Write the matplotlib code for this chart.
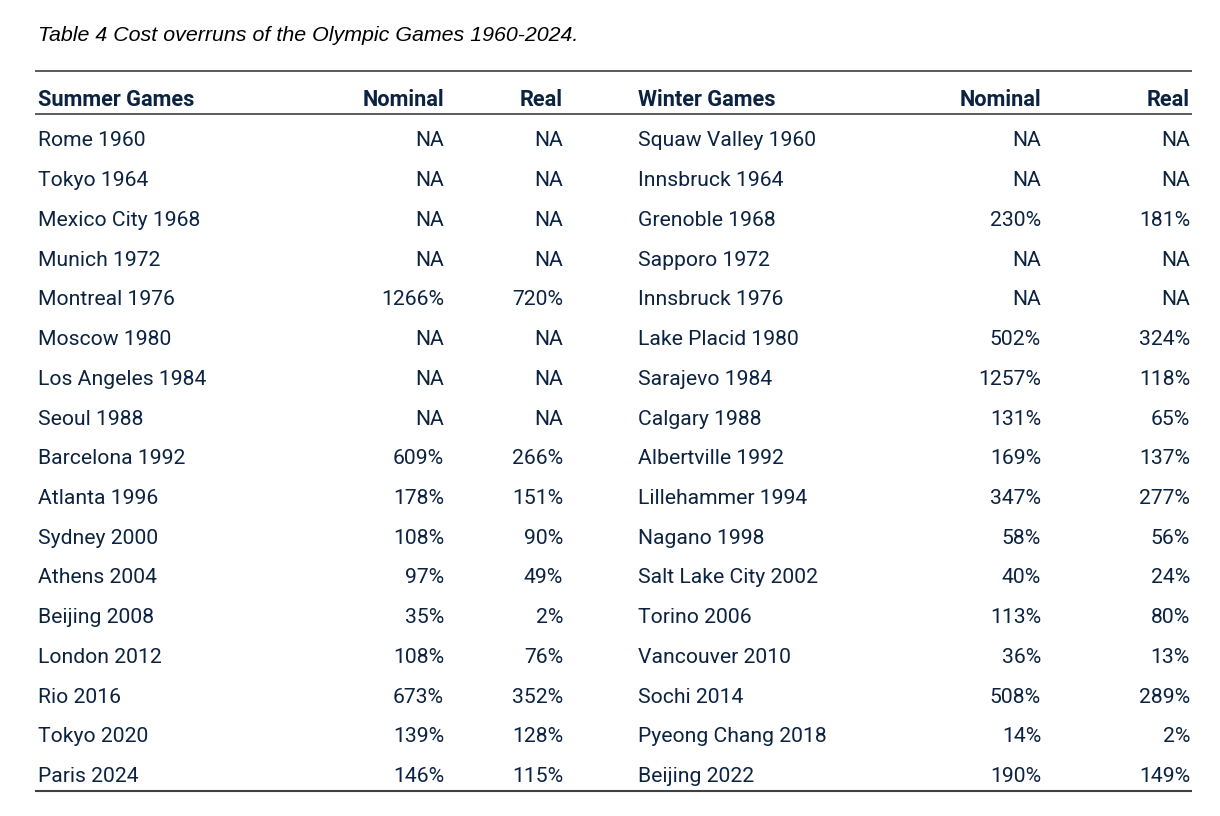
import matplotlib
matplotlib.use("Agg")
import matplotlib.pyplot as plt

title = "Table 4 Cost overruns of the Olympic Games 1960-2024."
headers = ["Summer Games", "Nominal", "Real", "Winter Games", "Nominal", "Real"]

summer_games = ["Rome 1960", "Tokyo 1964", "Mexico City 1968", "Munich 1972", "Montreal 1976",
                "Moscow 1980", "Los Angeles 1984", "Seoul 1988", "Barcelona 1992", "Atlanta 1996",
                "Sydney 2000", "Athens 2004", "Beijing 2008", "London 2012", "Rio 2016",
                "Tokyo 2020", "Paris 2024"]
summer_nominal = ["NA", "NA", "NA", "NA", "1266%", "NA", "NA", "NA", "609%", "178%",
                  "108%", "97%", "35%", "108%", "673%", "139%", "146%"]
summer_real = ["NA", "NA", "NA", "NA", "720%", "NA", "NA", "NA", "266%", "151%",
               "90%", "49%", "2%", "76%", "352%", "128%", "115%"]

winter_games = ["Squaw Valley 1960", "Innsbruck 1964", "Grenoble 1968", "Sapporo 1972",
                "Innsbruck 1976", "Lake Placid 1980", "Sarajevo 1984", "Calgary 1988",
                "Albertville 1992", "Lillehammer 1994", "Nagano 1998", "Salt Lake City 2002",
                "Torino 2006", "Vancouver 2010", "Sochi 2014", "Pyeong Chang 2018", "Beijing 2022"]
winter_nominal = ["NA", "NA", "230%", "NA", "NA", "502%", "1257%", "131%", "169%", "347%",
                  "58%", "40%", "113%", "36%", "508%", "14%", "190%"]
winter_real = ["NA", "NA", "181%", "NA", "NA", "324%", "118%", "65%", "137%", "277%",
               "56%", "24%", "80%", "13%", "289%", "2%", "149%"]

W, H = 1220, 816
fig = plt.figure(figsize=(W / 100, H / 100), dpi=100)
ax = fig.add_axes([0, 0, 1, 1])
ax.set_xlim(0, W)
ax.set_ylim(H, 0)
ax.axis("off")

txt_color = "#0b2240"
line_color = "#404040"
font = "Roboto"
fs = 15.2

ax.text(38, 35.5, title, fontsize=15.4, fontstyle="italic", family="Liberation Sans",
        color="black", va="center", ha="left")

# column x positions and alignments
cols = [(38, "left"), (444, "right"), (563, "right"), (638, "left"), (1041, "right"), (1190, "right")]

for (x, ha), h in zip(cols, headers):
    ax.text(x, 100.5, h, fontsize=15.7, fontweight="bold", family=font, color=txt_color,
            va="center", ha=ha)

y0, dy = 141, 39.72
columns = [summer_games, summer_nominal, summer_real, winter_games, winter_nominal, winter_real]
for i in range(len(summer_games)):
    y = y0 + i * dy
    for (x, ha), col in zip(cols, columns):
        ax.text(x, y, col[i], fontsize=fs, family=font, color=txt_color, va="center", ha=ha)

for y, lw in [(71, 1.2), (114, 1.2), (791, 1.5)]:
    ax.plot([35, 1192], [y, y], color=line_color, lw=lw, solid_capstyle="butt")

fig.savefig("out.png", dpi=100)
